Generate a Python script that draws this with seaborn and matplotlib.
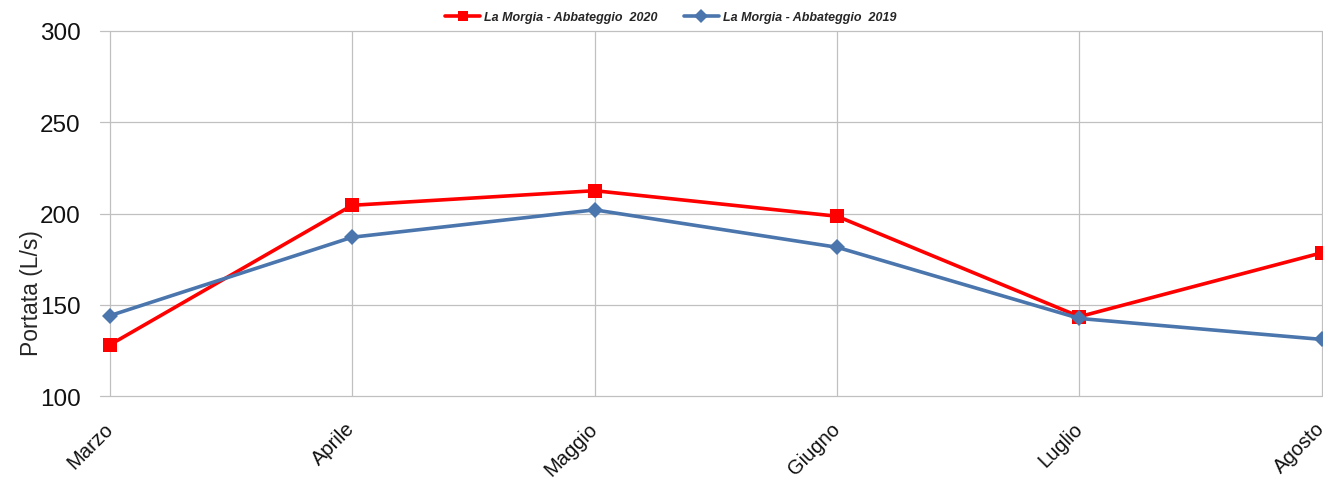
import pandas as pd
import matplotlib.pyplot as plt
import seaborn as sns

months = ['Marzo', 'Aprile', 'Maggio', 'Giugno', 'Luglio', 'Agosto']
portata_2020 = [128, 204.5, 212.5, 198.5, 143.5, 178.5]
portata_2019 = [144, 187, 202, 181.5, 142.5, 131]

label_2020 = 'La Morgia - Abbateggio  2020'
label_2019 = 'La Morgia - Abbateggio  2019'

sns.set_style("white")
plt.rcParams['font.family'] = ['Liberation Sans', 'DejaVu Sans']

df = pd.DataFrame({
    'Mese': months * 2,
    'Portata': portata_2020 + portata_2019,
    'Serie': [label_2020] * len(months) + [label_2019] * len(months),
})

fig = plt.figure(figsize=(13.23, 4.81), dpi=100)
ax = fig.add_axes([0.0756, 0.1746, 0.9236, 0.7589])

sns.lineplot(data=df, x='Mese', y='Portata', hue='Serie', style='Serie',
             palette={label_2020: '#ff0000', label_2019: '#4a76ad'},
             markers={label_2020: 's', label_2019: 'D'},
             dashes=False, linewidth=2.6, markersize=10,
             markeredgewidth=0, sort=False, ax=ax)
# diamond a bit smaller than the square
for line, ms in zip(ax.lines, [10, 8.5]):
    line.set_markersize(ms)

ax.set_xlim(-0.04, 5.0)
ax.set_ylim(100, 300)
ax.set_yticks([100, 150, 200, 250, 300])
ax.grid(True, color='#c0c0c0', linewidth=0.9)
for gl in ax.get_ygridlines() + ax.get_xgridlines():
    gl.set_clip_on(False)
ax.set_axisbelow(True)
for s in ax.spines.values():
    s.set_visible(False)

ax.tick_params(axis='y', labelsize=17.5, length=0, pad=14, colors='#111111')
ax.tick_params(axis='x', labelsize=14.5, length=10, color='#c0c0c0', width=0.9,
               pad=11, labelcolor='#111111')
plt.setp(ax.get_xticklabels(), rotation=45, ha='right', va='center',
         rotation_mode='anchor')

ax.set_xlabel('')
ax.set_ylabel('Portata (L/s)', fontsize=16.5)
ax.yaxis.set_label_coords(-0.047, 0.285)

leg = ax.legend(loc='upper center', bbox_to_anchor=(0.467, 1.068), ncol=2, frameon=False,
                prop={'size': 9, 'weight': 'bold', 'style': 'italic'},
                handlelength=2.8, handletextpad=0.3, columnspacing=2.1,
                borderaxespad=0, markerscale=0.75)

plt.savefig('out.png', dpi=100)
plt.close()
